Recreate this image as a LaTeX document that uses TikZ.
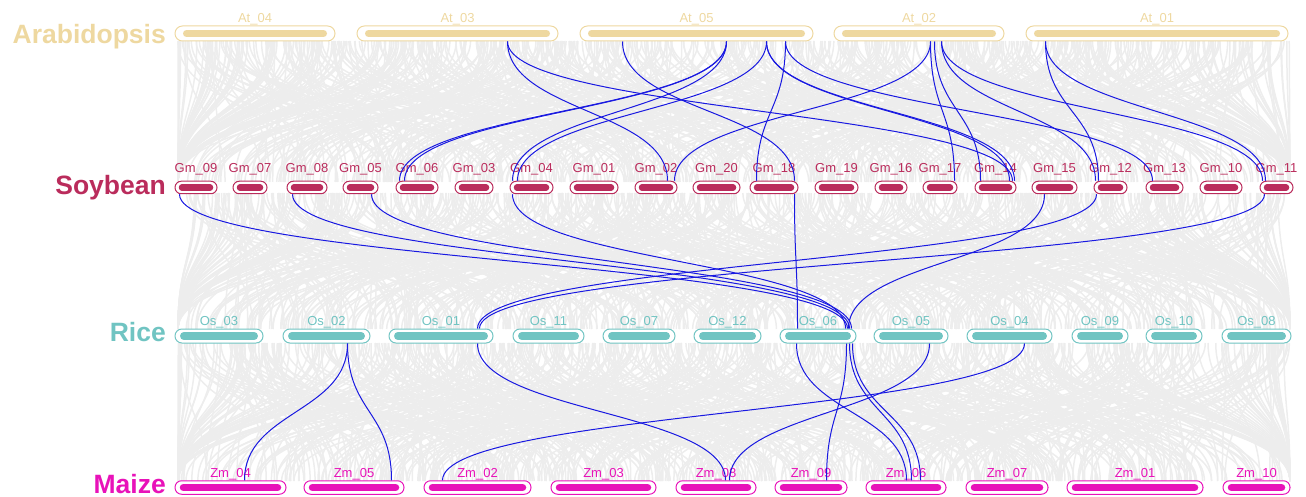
\documentclass[tikz,border=0pt]{standalone}
\usepackage{fontspec}
\setmainfont{Liberation Sans}
\definecolor{atc}{RGB}{238,216,160}
\definecolor{gmc}{RGB}{186,44,92}
\definecolor{osc}{RGB}{112,196,194}
\definecolor{zmc}{RGB}{232,18,185}
\definecolor{synblue}{RGB}{25,25,225}
\definecolor{bggray}{RGB}{237,237,237}
\tikzset{
  chrlabel/.style={inner sep=0pt, font=\fontsize{13}{15}\selectfont},
  rowlab/.style={inner sep=0pt, font=\fontsize{26.5}{30}\selectfont\bfseries},
  syn/.style={synblue, line width=1pt},
  bgline/.style={bggray, line width=1.5pt},
}
\newcommand{\chrom}[4]{%
  \expandafter\xdef\csname cx@#1\endcsname{#3}%
  \node[chrbox, draw=\rowcol, minimum width={(#4-#3)*1pt}] (#1) at ({(#3+#4)/2},\rowy) {};
  \draw[\rowcol, line width=\barw, line cap=round] ({#3+\ins},\rowy) -- ({#4-\ins},\rowy);
  \node[chrlabel, text=\rowcol, anchor=base] (#1l) at ({(#3+#4)/2},\laby) {#2};
}
\newcommand{\syn}[5]{%
  \draw[syn] ([xshift={(#2-\csname cx@#1\endcsname)*1pt}]#1.south west)
    .. controls +(0,#5) and +(0,-#5) ..
    ([xshift={(#4-\csname cx@#3\endcsname)*1pt}]#3.north west);
}
\begin{document}
\begin{tikzpicture}[x=1pt,y=-1pt]
\useasboundingbox (0,0) rectangle (1306,497);
% background synteny texture
\pgfmathsetseed{12345}
\foreach \i in {1,...,750}{%
  \pgfmathsetmacro\xa{178+1112*rnd}%
  \pgfmathsetmacro\xb{min(1290,max(178,\xa+700*(rnd-0.5)))}%
  \draw[bgline] (\xa,41) .. controls (\xa,111) and (\xb,111) .. (\xb,182);
}
\foreach \i in {1,...,750}{%
  \pgfmathsetmacro\xa{178+1112*rnd}%
  \pgfmathsetmacro\xb{min(1290,max(178,\xa+700*(rnd-0.5)))}%
  \draw[bgline] (\xa,193) .. controls (\xa,261) and (\xb,261) .. (\xb,329);
}
\foreach \i in {1,...,750}{%
  \pgfmathsetmacro\xa{178+1112*rnd}%
  \pgfmathsetmacro\xb{min(1290,max(178,\xa+700*(rnd-0.5)))}%
  \draw[bgline] (\xa,343) .. controls (\xa,412) and (\xb,412) .. (\xb,481);
}
% ---------- Arabidopsis ----------
\def\rowy{33.5}\def\laby{22.5}\def\rowcol{atc}\def\barw{7pt}\def\ins{11.5}
\tikzset{chrbox/.style={fill=white, line width=1pt, inner sep=0pt, minimum height=15pt, rounded corners=7.4pt}}
\node[rowlab, text=atc, anchor=base east] (tAt) at (166,43.3) {Arabidopsis};
\chrom{At04}{At\_04}{175}{335}
\chrom{At03}{At\_03}{357}{558}
\chrom{At05}{At\_05}{580}{813}
\chrom{At02}{At\_02}{834}{1004}
\chrom{At01}{At\_01}{1026}{1288}
% ---------- Soybean ----------
\def\rowy{187.5}\def\laby{173}\def\rowcol{gmc}\def\barw{6.5pt}\def\ins{7}
\tikzset{chrbox/.style={fill=white, line width=1pt, inner sep=0pt, minimum height=12.5pt, rounded corners=6.2pt}}
\node[rowlab, text=gmc, anchor=base east] (tGm) at (166,194.3) {Soybean};
\chrom{Gm09}{Gm\_09}{175}{217}
\chrom{Gm07}{Gm\_07}{233}{267}
\chrom{Gm08}{Gm\_08}{287}{327}
\chrom{Gm05}{Gm\_05}{343}{378}
\chrom{Gm06}{Gm\_06}{396}{438}
\chrom{Gm03}{Gm\_03}{455}{493}
\chrom{Gm04}{Gm\_04}{510}{553}
\chrom{Gm01}{Gm\_01}{570}{618}
\chrom{Gm02}{Gm\_02}{635}{677}
\chrom{Gm20}{Gm\_20}{693}{740}
\chrom{Gm18}{Gm\_18}{750}{798}
\chrom{Gm19}{Gm\_19}{815}{858}
\chrom{Gm16}{Gm\_16}{875}{907}
\chrom{Gm17}{Gm\_17}{923}{957}
\chrom{Gm14}{Gm\_14}{975}{1016}
\chrom{Gm15}{Gm\_15}{1032}{1077}
\chrom{Gm12}{Gm\_12}{1094}{1127}
\chrom{Gm13}{Gm\_13}{1146}{1183}
\chrom{Gm10}{Gm\_10}{1200}{1242}
\chrom{Gm11}{Gm\_11}{1260}{1293}
% ---------- Rice ----------
\def\rowy{336}\def\laby{325}\def\rowcol{osc}\def\barw{7.5pt}\def\ins{8.8}
\tikzset{chrbox/.style={fill=white, line width=1pt, inner sep=0pt, minimum height=14pt, rounded corners=6.9pt}}
\node[rowlab, text=osc, anchor=base east] (tOs) at (166,341.7) {Rice};
\chrom{Os03}{Os\_03}{175}{263}
\chrom{Os02}{Os\_02}{283}{370}
\chrom{Os01}{Os\_01}{389}{493}
\chrom{Os11}{Os\_11}{513}{584}
\chrom{Os07}{Os\_07}{603}{675}
\chrom{Os12}{Os\_12}{694}{761}
\chrom{Os06}{Os\_06}{780}{856}
\chrom{Os05}{Os\_05}{874}{948}
\chrom{Os04}{Os\_04}{967}{1052}
\chrom{Os09}{Os\_09}{1072}{1128}
\chrom{Os10}{Os\_10}{1146}{1202}
\chrom{Os08}{Os\_08}{1222}{1291}
% ---------- Maize ----------
\def\rowy{487.5}\def\laby{477}\def\rowcol{zmc}\def\barw{7.5pt}\def\ins{8.5}
\tikzset{chrbox/.style={fill=white, line width=1pt, inner sep=0pt, minimum height=13.5pt, rounded corners=6.6pt}}
\node[rowlab, text=zmc, anchor=base east] (tZm) at (166,493.3) {Maize};
\chrom{Zm04}{Zm\_04}{175}{286}
\chrom{Zm05}{Zm\_05}{304}{404}
\chrom{Zm02}{Zm\_02}{424}{531}
\chrom{Zm03}{Zm\_03}{551}{656}
\chrom{Zm08}{Zm\_08}{676}{756}
\chrom{Zm09}{Zm\_09}{775}{847}
\chrom{Zm06}{Zm\_06}{866}{946}
\chrom{Zm07}{Zm\_07}{966}{1048}
\chrom{Zm01}{Zm\_01}{1067}{1203}
\chrom{Zm10}{Zm\_10}{1223}{1290}
% ---------- syntenic links: Arabidopsis -> Soybean ----------
\syn{At03}{508}{Gm02}{668}{70}
\syn{At03}{508}{Gm14}{1013}{70}
\syn{At05}{623}{Gm18}{795}{70}
\syn{At05}{727}{Gm06}{400}{70}
\syn{At05}{727}{Gm06}{405}{70}
\syn{At05}{727}{Gm04}{513}{70}
\syn{At05}{767}{Gm04}{518}{70}
\syn{At05}{767}{Gm14}{1010}{70}
\syn{At05}{767}{Gm14}{1015}{70}
\syn{At05}{786}{Gm18}{757}{70}
\syn{At05}{786}{Gm13}{1153}{70}
\syn{At02}{931}{Gm02}{675}{70}
\syn{At02}{931}{Gm17}{955}{70}
\syn{At02}{935}{Gm14}{981}{70}
\syn{At02}{942}{Gm12}{1096}{70}
\syn{At02}{942}{Gm11}{1263}{70}
\syn{At01}{1046}{Gm12}{1099}{70}
\syn{At01}{1046}{Gm11}{1266}{70}
% ---------- Soybean -> Rice ----------
\syn{Gm09}{180}{Os06}{848}{68}
\syn{Gm08}{293}{Os06}{850}{68}
\syn{Gm05}{372}{Os06}{852}{68}
\syn{Gm04}{513}{Os06}{846}{68}
\syn{Gm18}{795}{Os06}{798}{68}
\syn{Gm15}{1045}{Os06}{849}{68}
\syn{Gm12}{1097}{Os01}{478}{68}
\syn{Gm11}{1265}{Os01}{480}{68}
% ---------- Rice -> Maize ----------
\syn{Os02}{348}{Zm04}{245}{69}
\syn{Os02}{348}{Zm05}{392}{69}
\syn{Os01}{478}{Zm08}{726}{69}
\syn{Os05}{930}{Zm08}{730}{69}
\syn{Os04}{1025}{Zm02}{443}{69}
\syn{Os06}{797}{Zm06}{907}{69}
\syn{Os06}{847}{Zm09}{827}{69}
\syn{Os06}{850}{Zm06}{912}{69}
\syn{Os06}{853}{Zm06}{921}{69}
\end{tikzpicture}
\end{document}
